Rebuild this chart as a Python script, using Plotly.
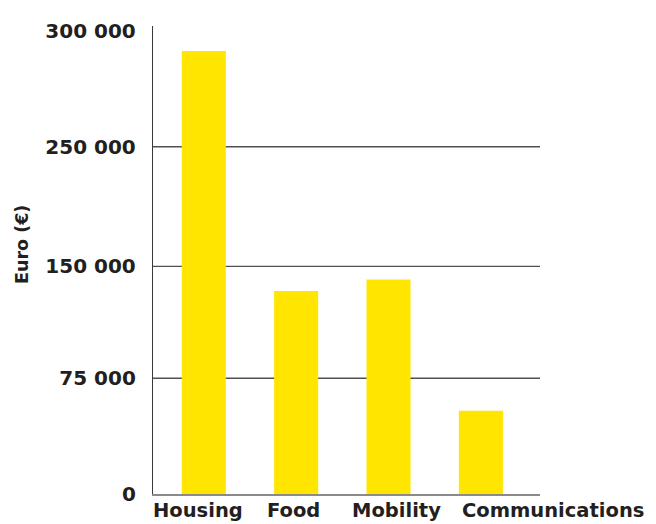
import plotly.graph_objects as go

categories = ["Housing", "Food", "Mobility", "Communications"]
values = [287000, 131500, 139000, 54000]
tick_vals = [0, 75000, 147500, 225000, 300000]
tick_text = ["0", "75 000", "150 000", "250 000", "300 000"]
grid_vals = [75000, 147500, 225000]
label_shift = [-6, -3, 8, 72]

FONT = "DejaVu Sans"
TXT = "#231f20"

fig = go.Figure()
fig.add_trace(go.Bar(
    x=categories, y=values, width=0.477,
    marker=dict(color="#ffe500", line=dict(width=0)),
))

shapes = []
for g in grid_vals:
    shapes.append(dict(type="line", xref="paper", yref="y", x0=0, x1=1, y0=g, y1=g,
                       line=dict(color="#505050", width=1.4), layer="below"))

annotations = []
for c, s in zip(categories, label_shift):
    annotations.append(dict(x=c, y=0, xref="x", yref="paper", text="<b>%s</b>" % c,
                            showarrow=False, xanchor="center", yanchor="top",
                            xshift=s, yshift=-4, borderpad=0,
                            font=dict(family=FONT, size=19.5, color=TXT)))

annotations.append(dict(x=0, y=0.5, xref="paper", yref="paper", text="<b>Euro (€)</b>",
                        showarrow=False, textangle=-90, xanchor="center", yanchor="middle",
                        xshift=-131, yshift=15,
                        font=dict(family=FONT, size=17.5, color=TXT)))

fig.update_layout(
    width=656, height=524,
    margin=dict(l=145, r=124, t=11, b=38),
    paper_bgcolor="white", plot_bgcolor="white",
    showlegend=False,
    shapes=shapes,
    annotations=annotations,
    xaxis=dict(range=[-0.55, 3.64], showticklabels=False, showgrid=False, zeroline=False,
               showline=True, linecolor="#8a8a8a", linewidth=2, ticks=""),
    yaxis=dict(range=[0, 303200], tickvals=tick_vals,
               ticktext=["<b>%s</b>" % t for t in tick_text],
               showgrid=False, zeroline=False, showline=True, linecolor="#3a3a3a",
               linewidth=1.4, ticks="", ticklabelstandoff=12,
               tickfont=dict(family=FONT, size=20, color=TXT)),
)

fig.write_html("out.html")
